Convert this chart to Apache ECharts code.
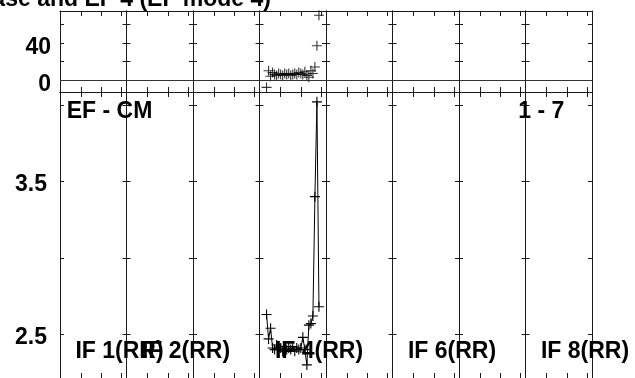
<!DOCTYPE html>
<html><head><meta charset="utf-8">
<script src="https://cdn.jsdelivr.net/npm/echarts@6/dist/echarts.min.js"></script>
<style>html,body{margin:0;padding:0;background:#fff;overflow:hidden}#c{width:635px;height:378px}</style>
</head><body><div id="c"></div>
<script>
// ---- data ----
const ifCount = 8;
const ifLabels = ['IF 1(RR)', 'IF 2(RR)', 'IF 4(RR)', 'IF 6(RR)', 'IF 8(RR)'];
const ifLabelIndex = [0, 1, 3, 5, 7];
const dataIF = 3; // IF 4
const channels = [3,4,5,6,7,8,9,10,11,12,13,14,15,16,17,18,19,20,21,22,23,24,25,26,27,28,29];
const phase = [-8,10,4,8,6,5,7,6,5,7,6,7,5,6,7,6,8,7,6,9,5,3,10,7,14,37,70];
const amp = [2.63,2.47,2.54,2.41,2.40,2.43,2.40,2.41,2.39,2.42,2.40,2.41,2.40,2.42,2.39,2.41,2.40,2.41,2.48,2.40,2.30,2.56,2.57,2.62,3.40,4.02,2.68];
const phaseTicks = [0, 20, 40, 60];
const phaseLabels = [0, 40];
const ampTicks = [2.5, 3.0, 3.5, 4.0];
const ampLabels = [2.5, 3.5];
const chanTicks = [10, 20, 30];
const baselineText = 'EF - CM';
const rangeText = '1 - 7';
const titleText = 'Phase and EF 4 (EF mode 4)';

// ---- layout ----
const L = 60, W = 532, w = W / ifCount;
const panels = [
  {top: 11, height: 81, min: -12.97, max: 74.59, ticks: phaseTicks, labels: phaseLabels, margin: 9, lh: 9, fmt: v => String(v)},
  {top: 92, height: 288, min: 2.2143, max: 4.0844, ticks: ampTicks, labels: ampLabels, margin: 13, lh: 7, fmt: v => v.toFixed(1)}
];
const LC = '#1a1a1a';
const FONT = 'Liberation Sans, Arial, Helvetica, sans-serif';
const cross = 'path://M5,0 L5,10 M0,5 L10,5';

const grid = [], xAxis = [], yAxis = [], series = [];
panels.forEach((p, pi) => {
  for (let i = 0; i < ifCount; i++) {
    const g = grid.length;
    grid.push({left: L + i * w, top: p.top, width: w, height: p.height, containLabel: false});
    ['bottom', 'top'].forEach(pos => xAxis.push({
      type: 'value', gridIndex: g, position: pos, min: -0.5, max: 32.5,
      axisLine: {show: true, onZero: false, lineStyle: {color: LC, width: 1}},
      axisTick: {show: true, inside: true, length: 5, customValues: chanTicks, lineStyle: {color: LC}},
      axisLabel: {show: false}, splitLine: {show: false}
    }));
    ['left', 'right'].forEach(pos => yAxis.push({
      type: 'value', gridIndex: g, position: pos, min: p.min, max: p.max,
      axisLine: {show: true, onZero: false, lineStyle: {color: LC, width: 1}},
      axisTick: {show: true, inside: true, length: 4, customValues: p.ticks, lineStyle: {color: LC}},
      axisLabel: (i === 0 && pos === 'left') ? {
        show: true, customValues: p.labels, margin: p.margin, formatter: p.fmt,
        fontFamily: FONT, fontWeight: 'bold', fontSize: 23, color: '#000',
        verticalAlign: 'top', lineHeight: p.lh
      } : {show: false},
      splitLine: {show: false}
    }));
    if (pi === 0) {
      series.push({
        type: 'line', xAxisIndex: 2 * g, yAxisIndex: 2 * g, data: [], silent: true,
        markLine: {silent: true, symbol: 'none', label: {show: false},
          lineStyle: {color: '#333', width: 1, type: 'solid'}, data: [{yAxis: 0}]}
      });
    }
  }
});

const topData = channels.map((c, k) => [c, phase[k]]);
const botData = channels.map((c, k) => [c, amp[k]]);
series.push({
  type: 'scatter', xAxisIndex: 2 * dataIF, yAxisIndex: 2 * dataIF, data: topData,
  symbol: cross, symbolSize: 10,
  itemStyle: {color: 'rgba(0,0,0,0)', borderColor: '#000', borderWidth: 1.1}
});
const g2 = ifCount + dataIF;
series.push({
  type: 'line', xAxisIndex: 2 * g2, yAxisIndex: 2 * g2, data: botData,
  symbol: cross, symbolSize: 10, showSymbol: true,
  lineStyle: {color: '#000', width: 1},
  itemStyle: {color: 'rgba(0,0,0,0)', borderColor: '#000', borderWidth: 1.1}
});

const txt = (text, x, y, align) => ({
  type: 'text', x: x, y: y, z: 100,
  style: {text: text, fill: '#000', font: 'bold 23px ' + FONT, textAlign: align || 'left', textVerticalAlign: 'middle'}
});
const graphic = [];
ifLabelIndex.forEach((idx, k) => graphic.push(txt(ifLabels[k], L + idx * w + 15.4, 352)));
graphic.push(txt(baselineText, L + 6.7, 112));
graphic.push(txt(rangeText, L + 458.3, 111.5));
graphic.push(txt(titleText, 271, -0.5, 'right'));

const chart = echarts.init(document.getElementById('c'), null, {renderer: 'canvas'});
chart.setOption({animation: false, backgroundColor: '#fff', grid, xAxis, yAxis, series, graphic});
</script></body></html>
